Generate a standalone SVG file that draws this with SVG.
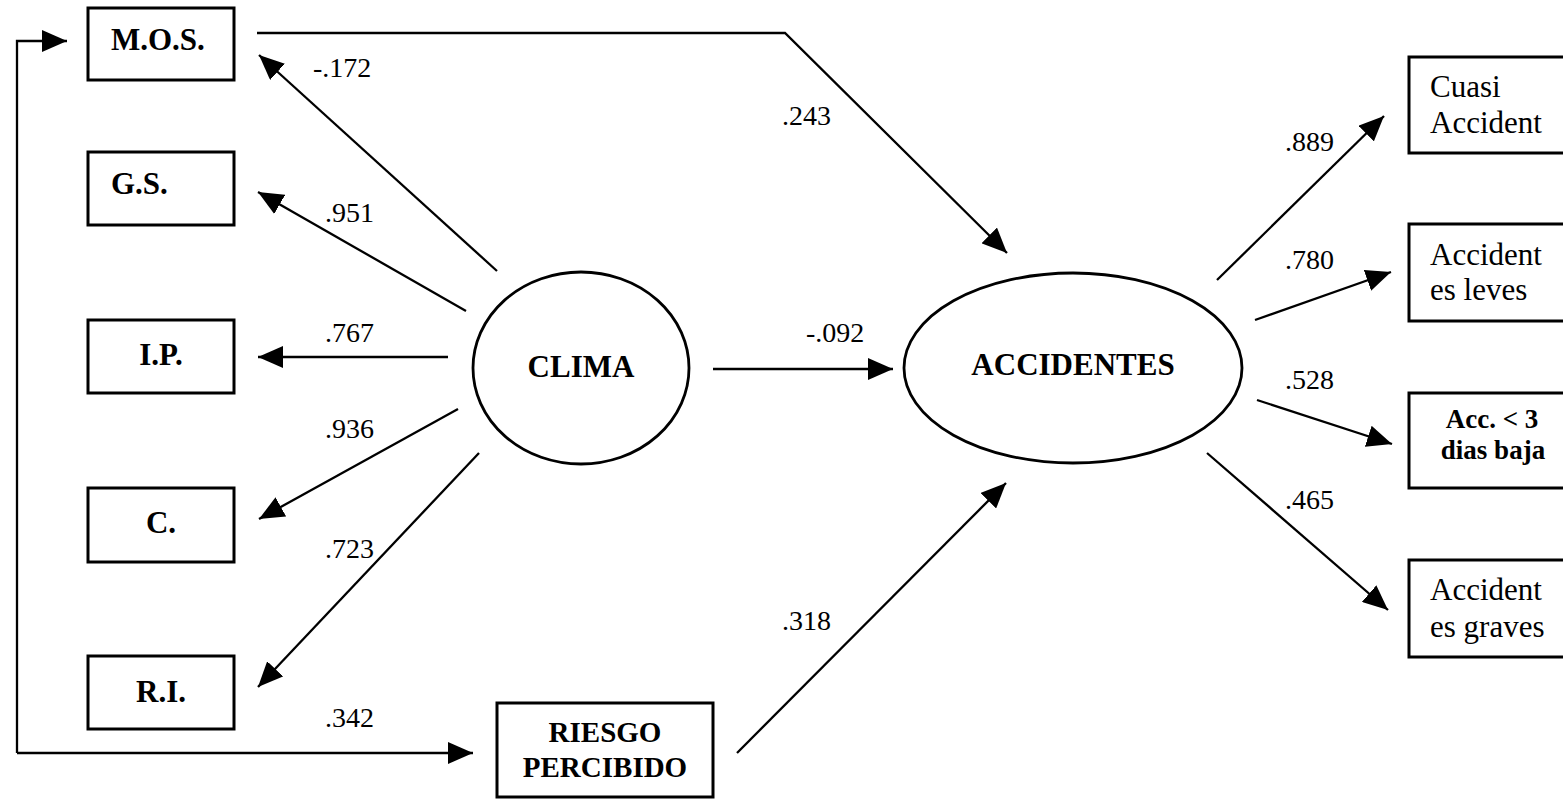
<svg xmlns="http://www.w3.org/2000/svg" width="1563" height="800" viewBox="0 0 1563 800">
  <style>
    .box { fill: #fff; stroke: #000; stroke-width: 3; }
    .ell { fill: #fff; stroke: #000; stroke-width: 2.8; }
    .edge { fill: none; stroke: #000; stroke-width: 2.3; }
    text { font-family: "Liberation Serif", "Times New Roman", "DejaVu Serif", serif; fill: #000; }
    .lbl { font-size: 28px; }
    .bold { font-size: 31px; font-weight: bold; }
    .reg { font-size: 31px; }
    .small { font-size: 27px; }
    .mid { font-size: 29px; }
  </style>
  <defs>
    <marker id="arrow" markerUnits="userSpaceOnUse" markerWidth="26" markerHeight="22" refX="25" refY="11" orient="auto">
      <path d="M0,0 L25,11 L0,22 z" fill="#000"/>
    </marker>
  </defs>
  <rect width="1563" height="800" fill="#fff"/>

  <!-- connectors -->
  <g id="connectors">
    <polyline class="edge" points="17,753 17,41 67,41" marker-end="url(#arrow)"/>
    <line class="edge" x1="17" y1="753" x2="473" y2="753" marker-end="url(#arrow)"/>
    <polyline class="edge" points="257,33 785,33 1007,253" marker-end="url(#arrow)"/>
    <line class="edge" x1="497" y1="271" x2="259" y2="55" marker-end="url(#arrow)"/>
    <line class="edge" x1="466" y1="311" x2="258" y2="192" marker-end="url(#arrow)"/>
    <line class="edge" x1="448" y1="357" x2="258" y2="357" marker-end="url(#arrow)"/>
    <line class="edge" x1="458" y1="409" x2="259" y2="519" marker-end="url(#arrow)"/>
    <line class="edge" x1="479" y1="453" x2="258" y2="687" marker-end="url(#arrow)"/>
    <line class="edge" x1="713" y1="369" x2="893" y2="369" marker-end="url(#arrow)"/>
    <line class="edge" x1="737" y1="753" x2="1006" y2="483" marker-end="url(#arrow)"/>
    <line class="edge" x1="1217" y1="280" x2="1384" y2="116" marker-end="url(#arrow)"/>
    <line class="edge" x1="1255" y1="320" x2="1391" y2="272" marker-end="url(#arrow)"/>
    <line class="edge" x1="1257" y1="400" x2="1392" y2="444" marker-end="url(#arrow)"/>
    <line class="edge" x1="1207" y1="453" x2="1388" y2="610" marker-end="url(#arrow)"/>

    <text class="lbl" x="313" y="77">-.172</text>
    <text class="lbl" x="325" y="222">.951</text>
    <text class="lbl" x="325" y="342">.767</text>
    <text class="lbl" x="325" y="438">.936</text>
    <text class="lbl" x="325" y="558">.723</text>
    <text class="lbl" x="325" y="727">.342</text>
    <text class="lbl" x="782" y="125">.243</text>
    <text class="lbl" x="806" y="342">-.092</text>
    <text class="lbl" x="782" y="630">.318</text>
    <text class="lbl" x="1285" y="151">.889</text>
    <text class="lbl" x="1285" y="269">.780</text>
    <text class="lbl" x="1285" y="389">.528</text>
    <text class="lbl" x="1285" y="509">.465</text>
  </g>

  <!-- observed indicators of CLIMA -->
  <g id="mos">
    <rect class="box" x="88" y="8" width="146" height="72"/>
    <text class="bold" x="111" y="50">M.O.S.</text>
  </g>
  <g id="gs">
    <rect class="box" x="88" y="152" width="146" height="73"/>
    <text class="bold" x="111" y="194">G.S.</text>
  </g>
  <g id="ip">
    <rect class="box" x="88" y="320" width="146" height="73"/>
    <text class="bold" x="161" y="365" text-anchor="middle">I.P.</text>
  </g>
  <g id="c">
    <rect class="box" x="88" y="488" width="146" height="74"/>
    <text class="bold" x="161" y="533" text-anchor="middle">C.</text>
  </g>
  <g id="ri">
    <rect class="box" x="88" y="656" width="146" height="73"/>
    <text class="bold" x="161" y="702" text-anchor="middle">R.I.</text>
  </g>

  <!-- perceived risk -->
  <g id="riesgo">
    <rect class="box" x="497" y="703" width="216" height="94"/>
    <text class="bold mid" x="605" y="742" text-anchor="middle">RIESGO</text>
    <text class="bold mid" x="605" y="777" text-anchor="middle">PERCIBIDO</text>
  </g>

  <!-- latent variables -->
  <g id="clima">
    <ellipse class="ell" cx="581" cy="368" rx="108" ry="96"/>
    <text class="bold" x="581" y="377" text-anchor="middle">CLIMA</text>
  </g>
  <g id="accidentes">
    <ellipse class="ell" cx="1073" cy="368" rx="169" ry="95"/>
    <text class="bold" x="1073" y="375" text-anchor="middle">ACCIDENTES</text>
  </g>

  <!-- accident indicators -->
  <g id="cuasi">
    <rect class="box" x="1409" y="57" width="200" height="96"/>
    <text class="reg" x="1430" y="97">Cuasi</text>
    <text class="reg" x="1430" y="133">Accident</text>
  </g>
  <g id="leves">
    <rect class="box" x="1409" y="224" width="200" height="97"/>
    <text class="reg" x="1430" y="265">Accident</text>
    <text class="reg" x="1430" y="300">es leves</text>
  </g>
  <g id="baja">
    <rect class="box" x="1409" y="393" width="200" height="95"/>
    <text class="bold small" x="1492" y="428" text-anchor="middle">Acc. &lt; 3</text>
    <text class="bold small" x="1493" y="459" text-anchor="middle">dias baja</text>
  </g>
  <g id="graves">
    <rect class="box" x="1409" y="560" width="200" height="97"/>
    <text class="reg" x="1430" y="600">Accident</text>
    <text class="reg" x="1430" y="637">es graves</text>
  </g>
</svg>
